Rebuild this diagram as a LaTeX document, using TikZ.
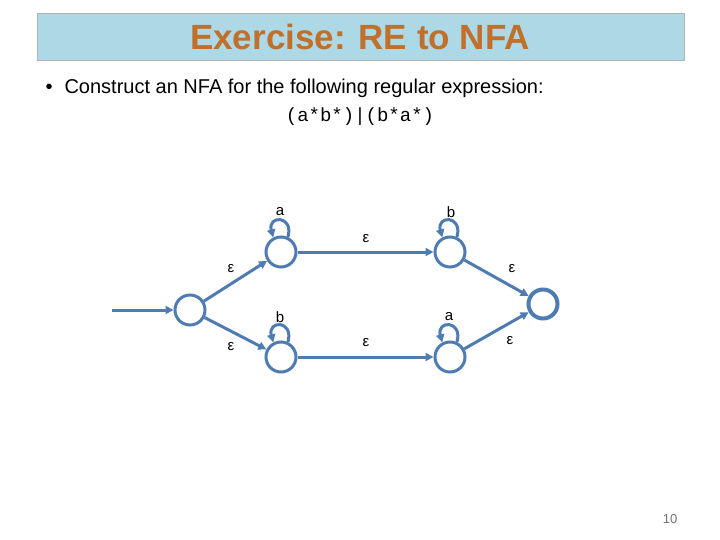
\documentclass[tikz,border=0pt]{standalone}
\usepackage{fontspec}
\setmainfont{Liberation Sans}
\setmonofont{Liberation Mono}
\usetikzlibrary{arrows.meta}
\definecolor{edge}{HTML}{4F7BB3}
\definecolor{titlec}{HTML}{C0702A}
\begin{document}
\begin{tikzpicture}[x=1pt,y=-1pt,
  st/.style={circle,draw=edge,line width=3pt,minimum size=30pt,inner sep=0pt},
  fin/.style={st,line width=4pt,minimum size=29pt},
  tr/.style={draw=edge,line width=3pt,-{Triangle[length=8pt,width=8pt]}},
  lb/.style={font=\fontsize{15}{17}\selectfont}]
\useasboundingbox (0,0) rectangle (720,540);
\node[draw=black!30,fill={rgb,255:red,173;green,216;blue,230},minimum width=647pt,minimum height=47pt,anchor=north west] (tb) at (37,13) {};
\node[text=titlec,font=\bfseries\fontsize{35}{38}\selectfont] (title) at (360,37) {Exercise: RE to NFA};
\node[anchor=west,font=\fontsize{20}{22}\selectfont] (bul) at (42,88) {•\hspace{12pt}Construct an NFA for the following regular expression:};
\node[font=\ttfamily\fontsize{19}{21}\selectfont] (re) at (360,117) {(a*b*)|(b*a*)};
\node[text=black!55,font=\fontsize{13}{15}\selectfont] (pg) at (670,519) {10};
\node[st] (s) at (190,310) {};
\node[st] (u1) at (281,252) {};
\node[st] (u2) at (450,252) {};
\node[st] (l1) at (281,357) {};
\node[st] (l2) at (450,357) {};
\node[fin] (f) at (543,304) {};
\coordinate (in) at (112,310);
\draw[tr] (in) -- (s);
\draw[tr] (s) -- (u1);
\draw[tr] (s) -- (l1);
\draw[tr] (u1) -- (u2);
\draw[tr] (l1) -- (l2);
\draw[tr] (u2) -- (f);
\draw[tr] (l2) -- (f);
\foreach \n in {u1,u2,l1,l2}
  \draw[tr] (\n.65) to[out=75,in=105,looseness=4] (\n.118);
\node[lb] at (280,212) {a};
\node[lb] at (451,212) {b};
\node[lb] at (280,317) {b};
\node[lb] at (449,317) {a};
\node[lb] at (366,239) {ε};
\node[lb] at (231,269) {ε};
\node[lb] at (512,269) {ε};
\node[lb] at (231,347) {ε};
\node[lb] at (366,343) {ε};
\node[lb] at (510,341) {ε};
\end{tikzpicture}
\end{document}
